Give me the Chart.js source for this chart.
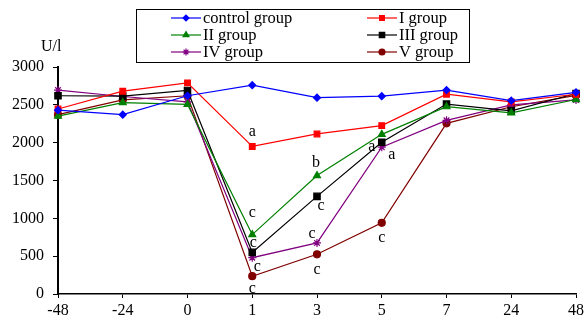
<!DOCTYPE html>
<html>
<head>
<meta charset="utf-8">
<script src="https://cdn.jsdelivr.net/npm/chart.js@4/dist/chart.umd.min.js"></script>
<style>
  html, body { margin: 0; padding: 0; background: #fff; }
  #wrap { width: 587px; height: 320px; position: relative; }
</style>
</head>
<body>
<div id="wrap"><canvas id="c"></canvas></div>
<script>
// Time points (h) relative to treatment
const hours = ['-48', '-24', '0', '1', '3', '5', '7', '24', '48'];

// Enzyme activity, U/l
const controlGroup = [2430, 2370, 2620, 2760, 2595, 2615, 2695, 2555, 2665];
const groupI       = [2445, 2680, 2790, 1950, 2115, 2225, 2640, 2540, 2640];
const groupII      = [2350, 2530, 2505, 785, 1565, 2110, 2475, 2395, 2570];
const groupIII     = [2620, 2615, 2690, 550, 1290, 2005, 2510, 2420, 2650];
const groupIV      = [2695, 2610, 2540, 480, 675, 1940, 2295, 2500, 2565];
const groupV       = [2370, 2565, 2620, 235, 525, 940, 2255, 2475, 2625];

// Significance letters: [time point, series index, letter]
const marks = [
  ['1', 1, 'a'],
  ['3', 2, 'b'],
  ['5', 3, 'a'],
  ['5', 4, 'a'],
  ['1', 2, 'c'],
  ['1', 3, 'c'],
  ['1', 4, 'c'],
  ['1', 5, 'c'],
  ['3', 3, 'c'],
  ['3', 4, 'c'],
  ['3', 5, 'c'],
  ['5', 5, 'c']
];
// Offset of each letter from its point, in px
const markOffsets = [
  [0, -15], [-1, -13], [-10, 5], [10, 8],
  [0, -22], [1, -10], [5, 9], [0, 13],
  [4, 9], [-5, -9], [0, 16], [0, 15]
];

const SERIF = '"Liberation Serif", "Times New Roman", serif';

function series(label, data, color, style, radius) {
  return {
    label, data,
    borderColor: color, backgroundColor: color,
    borderWidth: 1.2,
    pointStyle: style, pointRadius: radius, pointHoverRadius: radius,
    pointBorderColor: color, pointBackgroundColor: color,
    pointBorderWidth: 1.2,
    tension: 0, fill: false
  };
}

const datasets = [
  series('control group', controlGroup, '#0000FF', 'rectRot', 3.5),
  series('I group', groupI, '#FF0000', 'rect', 4),
  series('II group', groupII, '#008000', 'triangle', 4),
  series('III group', groupIII, '#000000', 'rect', 4.5),
  series('IV group', groupIV, '#800080', 'star', 4),
  series('V group', groupV, '#800000', 'circle', 3.5)
];

// Boxed two-column legend above the plot
const boxLegend = {
  id: 'boxLegend',
  afterDraw(chart) {
    const ctx = chart.ctx;
    ctx.save();
    ctx.strokeStyle = '#000';
    ctx.lineWidth = 1;
    ctx.strokeRect(136.5, 9.5, 333, 53);
    ctx.font = '16.5px ' + SERIF;
    ctx.textBaseline = 'middle';
    ctx.textAlign = 'left';
    const cols = [171, 367];
    const rows = [18, 35, 52];
    chart.data.datasets.forEach((ds, i) => {
      const x = cols[i % 2], y = rows[Math.floor(i / 2)];
      ctx.strokeStyle = ds.borderColor;
      ctx.lineWidth = 1.2;
      ctx.beginPath(); ctx.moveTo(x, y); ctx.lineTo(x + 30, y); ctx.stroke();
      ctx.fillStyle = ds.pointBackgroundColor;
      ctx.strokeStyle = ds.pointBorderColor;
      Chart.helpers.drawPoint(ctx, {
        pointStyle: ds.pointStyle, radius: ds.pointRadius * 0.85, borderWidth: 1.2
      }, x + 15, y);
      ctx.fillStyle = '#000';
      ctx.fillText(ds.label, x + 32, y + 1);
    });
    ctx.restore();
  }
};

// Unit label and significance letters
const extras = {
  id: 'extras',
  afterDatasetsDraw(chart) {
    const ctx = chart.ctx;
    const xs = chart.scales.x, ys = chart.scales.y;
    ctx.save();
    ctx.fillStyle = '#000';
    ctx.font = '16px ' + SERIF;
    ctx.textAlign = 'left';
    ctx.textBaseline = 'middle';
    ctx.fillText('U/l', 41, 47);
    ctx.textAlign = 'center';
    marks.forEach((m, i) => {
      const idx = hours.indexOf(m[0]);
      const v = chart.data.datasets[m[1]].data[idx];
      const px = xs.getPixelForValue(idx);
      const py = ys.getPixelForValue(v);
      ctx.fillText(m[2], px + markOffsets[i][0], py + markOffsets[i][1]);
    });
    ctx.restore();
  }
};

new Chart(document.getElementById('c'), {
  type: 'line',
  data: { labels: hours, datasets },
  options: {
    responsive: true,
    maintainAspectRatio: false,
    animation: false,
    layout: { padding: { top: 67, right: 9, left: 0, bottom: 0 } },
    plugins: { legend: { display: false }, tooltip: { enabled: false } },
    scales: {
      x: {
        type: 'category',
        offset: false,
        grid: { drawOnChartArea: false, drawTicks: true, tickLength: 4, color: '#000' },
        border: { color: '#000', width: 1.5 },
        ticks: { color: '#000', font: { family: SERIF, size: 16 }, padding: 3, maxRotation: 0, autoSkip: false },
        afterFit(s) { s.height = 26; }
      },
      y: {
        min: 0, max: 3000,
        grid: { drawOnChartArea: false, drawTicks: true, tickLength: 5, color: '#000' },
        border: { color: '#000', width: 2 },
        ticks: {
          stepSize: 500, color: '#000', font: { family: SERIF, size: 16 }, padding: 9,
          callback: (v) => String(v)
        },
        afterFit(s) { s.width = 58; }
      }
    }
  },
  plugins: [boxLegend, extras]
});
</script>
</body>
</html>
